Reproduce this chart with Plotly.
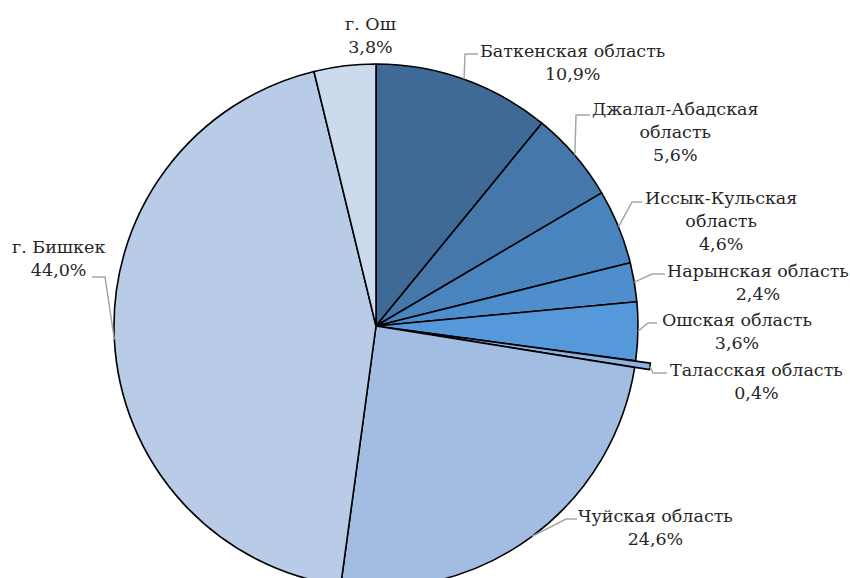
import math
import plotly.graph_objects as go

# ---- data ----
regions = ["Баткенская область", "Джалал-Абадская область", "Иссык-Кульская область",
           "Нарынская область", "Ошская область", "Таласская область",
           "Чуйская область", "г. Бишкек", "г. Ош"]
display_names = ["Баткенская область", "Джалал-Абадская<br>область", "Иссык-Кульская<br>область",
                 "Нарынская область", "Ошская область", "Таласская область",
                 "Чуйская область", "г. Бишкек", "г. Ош"]
shares = [10.9, 5.6, 4.6, 2.4, 3.6, 0.4, 24.6, 44.0, 3.8]

# ---- style ----
colors = ["#3E6A95", "#4577AB", "#4A84BE", "#4E8ECD", "#5599DA",
          "#8DB3E2", "#A3BDE2", "#B8CCE8", "#CCDAEE"]
pulls = [0, 0, 0, 0, 0, 0.057, 0, 0, 0]
FONT = "DejaVu Serif"

W, H = 850, 605
CX, CY, R = 376, 326, 262
maxpull = max(pulls)
half = R * (1 + maxpull)

# label positions (pixels) and leader elbows/ends
label_pos = [(572, 62), (675, 132), (721, 221), (758, 282), (737, 331),
             (756, 381), (655, 527), (58, 258), (370, 36)]
elbows = [(465, 54), (576, 115), (632, 202), (652, 274), (648, 323),
          (653, 373), (566, 519), (105, 277), None]
ends = [(478, 54), (590, 115), (642, 202), (665, 274), (657, 323),
        (667, 373), (577, 519), (92, 277), None]


def px(x):
    return x / W


def py(y):
    return 1 - y / H


fig = go.Figure(go.Pie(
    labels=regions,
    values=shares,
    sort=False,
    direction="clockwise",
    rotation=0,
    pull=pulls,
    textinfo="none",
    hoverinfo="label+percent",
    marker=dict(colors=colors, line=dict(color="#000000", width=1.6)),
    domain=dict(x=[px(CX - half), px(CX + half)], y=[py(CY + half), py(CY - half)]),
    showlegend=False,
))

total = sum(shares)
cum = 0.0
shapes = []
annotations = []
for i, v in enumerate(shares):
    mid = (cum + v / 2) / total
    cum += v
    theta = 2 * math.pi * mid
    rr = R * (1 + pulls[i])
    ax = CX + rr * math.sin(theta)
    ay = CY - rr * math.cos(theta)
    if elbows[i] is not None:
        ex, ey = elbows[i]
        fx, fy = ends[i]
        path = f"M {px(ax)},{py(ay)} L {px(ex)},{py(ey)} L {px(fx)},{py(fy)}"
        shapes.append(dict(type="path", xref="paper", yref="paper", path=path,
                           line=dict(color="#A6A6A6", width=1.5)))
    pct = f"{v:.1f}".replace(".", ",") + "%"
    txt = f"{display_names[i]}<br>{pct}"
    lx, ly = label_pos[i]
    annotations.append(dict(x=px(lx), y=py(ly), xref="paper", yref="paper",
                            text=txt, showarrow=False, xanchor="center", yanchor="middle",
                            align="center",
                            font=dict(family=FONT, size=17.5, color="#262626")))

fig.update_layout(
    width=W, height=H,
    margin=dict(l=0, r=0, t=0, b=0),
    paper_bgcolor="white",
    plot_bgcolor="white",
    font=dict(family=FONT),
    shapes=shapes,
    annotations=annotations,
)

fig.write_html("out.html",
               config={"displayModeBar": False},
               post_script="document.body.style.margin='0';document.body.style.overflow='hidden';"
                           "document.documentElement.style.overflow='hidden';")
